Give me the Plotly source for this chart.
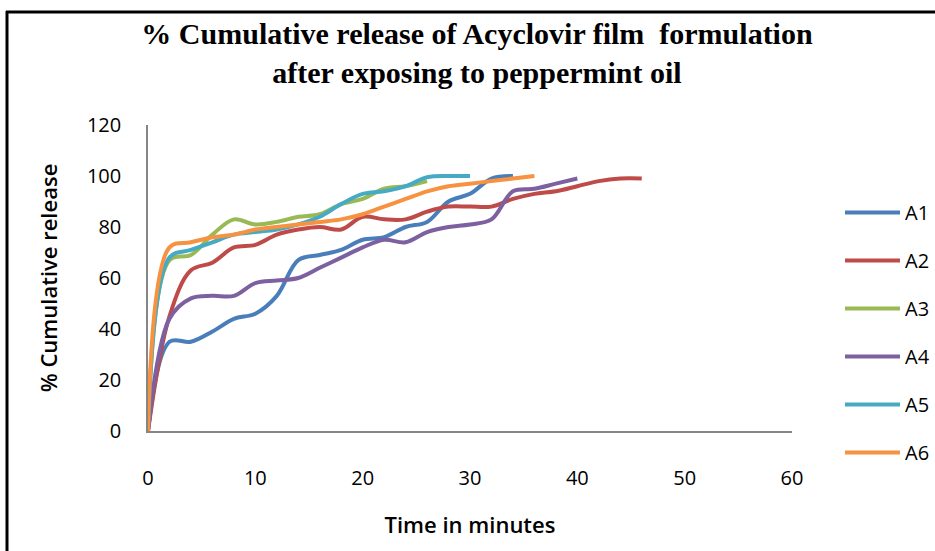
import plotly.graph_objects as go

names = ["A1", "A2", "A3", "A4", "A5", "A6"]
colors = ["#4A7EBB", "#BE4B48", "#98B954", "#7D60A0", "#46AAC5", "#F69240"]

t_A1 = [0, 2, 4, 6, 8, 10, 12, 14, 16, 18, 20, 22, 24, 26, 28, 30, 32, 34]
v_A1 = [0, 35, 35, 39, 44, 46, 53, 67, 69, 71, 75, 76, 80, 82, 90, 93, 99, 100]

t_A2 = [0, 2, 4, 6, 8, 10, 12, 14, 16, 18, 20, 22, 24, 26, 28, 30, 32, 34, 36, 38, 40, 42, 44, 46]
v_A2 = [0, 45, 63, 66, 72, 73, 77, 79, 80, 79, 84, 83, 83, 86, 88, 88, 88, 91, 93, 94, 96, 98, 99, 99]

t_A3 = [0, 2, 4, 6, 8, 10, 12, 14, 16, 18, 20, 22, 24, 26]
v_A3 = [0, 67, 69, 77, 83, 81, 82, 84, 85, 89, 91, 95, 96, 98]

t_A4 = [0, 2, 4, 6, 8, 10, 12, 14, 16, 18, 20, 22, 24, 26, 28, 30, 32, 34, 36, 38, 40]
v_A4 = [0, 44, 52, 53, 53, 58, 59, 60, 64, 68, 72, 75, 74, 78, 80, 81, 83, 94, 95, 97, 99]

t_A5 = [0, 2, 4, 6, 8, 10, 12, 14, 16, 18, 20, 22, 24, 26, 28, 30]
v_A5 = [0, 68, 71, 74, 77, 78, 79, 81, 84, 89, 93, 94, 96, 99.5, 100, 100]

t_A6 = [0, 2, 4, 6, 8, 10, 12, 14, 16, 18, 20, 22, 24, 26, 28, 30, 32, 34, 36]
v_A6 = [0, 72, 74, 76, 77, 79, 80, 81, 82, 83, 85, 88, 91, 94, 96, 97, 98, 99, 100]

times = [t_A1, t_A2, t_A3, t_A4, t_A5, t_A6]
values = [v_A1, v_A2, v_A3, v_A4, v_A5, v_A6]

x_ticks = [0, 10, 20, 30, 40, 50, 60]
y_ticks = [0, 20, 40, 60, 80, 100, 120]

fig = go.Figure()
for name, col, t, v in zip(names, colors, times, values):
    fig.add_trace(go.Scatter(
        x=t, y=v, name=name, mode="lines",
        line=dict(color=col, width=4, shape="spline", smoothing=1.0),
        legendgroup=name,
    ))

W, H = 935, 551
L, R, T, B = 148, 143, 125, 120
pw, ph = W - L - R, H - T - B

def px(xp):
    return (xp - L) / pw

def py(yp):
    return (H - B - yp) / ph

tick_font = dict(family="Open Sans, Calibri, sans-serif", size=20, color="#000000")
title_font = dict(family="Open Sans, Calibri, sans-serif", size=22, color="#000000", weight=600)

fig.update_layout(
    width=W, height=H,
    margin=dict(l=L, r=R, t=T, b=B, autoexpand=False),
    paper_bgcolor="white", plot_bgcolor="white",
    title=dict(
        text="% Cumulative release of Acyclovir film  formulation<br>after exposing to peppermint oil",
        font=dict(family="Liberation Serif, Times New Roman, serif", size=30, color="#000000", weight="bold"),
        x=477 / W, xanchor="center", xref="container",
        y=1 - 44 / H, yanchor="top", yref="container",
    ),
    showlegend=True,
    legend=dict(
        x=px(840), xanchor="left", y=py(193), yanchor="top",
        font=dict(family="Open Sans, Calibri, sans-serif", size=20, color="#000000"),
        tracegroupgap=19, itemwidth=55, bgcolor="rgba(0,0,0,0)",
    ),
    xaxis=dict(
        range=[0, 60], tickvals=x_ticks, ticktext=[str(v) for v in x_ticks],
        showgrid=False, zeroline=False, showline=True, linecolor="#868686", linewidth=1.5,
        ticks="", tickfont=tick_font, ticklabelstandoff=28,
        title=dict(text="Time in minutes", font=title_font, standoff=28),
    ),
    yaxis=dict(
        range=[0, 120], tickvals=y_ticks, ticktext=[str(v) for v in y_ticks],
        showgrid=False, zeroline=False, showline=True, linecolor="#868686", linewidth=1.5,
        ticks="", tickfont=tick_font, ticklabelstandoff=21,
        title=dict(text="% Cumulative release", font=title_font, standoff=23),
    ),
    shapes=[
        dict(type="line", xref="paper", yref="paper", x0=px(6), x1=px(936), y0=py(12), y1=py(12),
             line=dict(color="black", width=3)),
        dict(type="line", xref="paper", yref="paper", x0=px(7), x1=px(7), y0=py(11), y1=py(552),
             line=dict(color="black", width=3)),
    ],
)

fig.write_html("out.html")
